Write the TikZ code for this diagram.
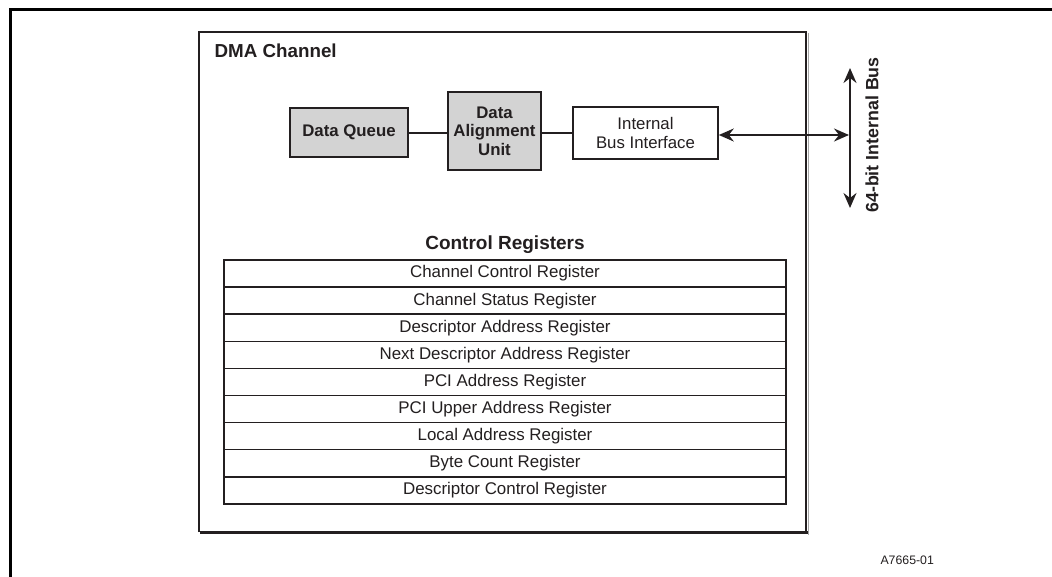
\documentclass[tikz,border=0pt]{standalone}
\usepackage{fontspec}
\setmainfont{Liberation Sans}
\usetikzlibrary{arrows.meta}
\definecolor{ink}{HTML}{231F20}
\definecolor{boxgray}{HTML}{D3D3D3}
\begin{document}
\begin{tikzpicture}[x=1pt,y=-1pt,
  blockbox/.style={draw=ink,line width=1.6pt,align=center,text=ink,inner sep=0pt,font=\fontsize{16.8}{19}\selectfont},
  regrow/.style={draw=ink,line width=1.5pt,minimum width=562pt,minimum height=27.1pt,inner sep=0pt,text=ink,font=\fontsize{16.9}{19}\selectfont},
  wire/.style={draw=ink,line width=1.7pt},
  biarrow/.style={draw=ink,line width=2pt,{Stealth[length=15pt,width=13pt,inset=5pt]}-{Stealth[length=15pt,width=13pt,inset=5pt]}}
]
\useasboundingbox (0,0) rectangle (1052,577);
\fill[white] (0,0) rectangle (1052,577);
% outer frame (partially visible)
\draw[black,line width=2.4pt] (10.5,580) -- (10.5,9.5) -- (1060,9.5);
% DMA channel box with shadow
\draw[gray!70,line width=1pt] (808,33) -- (808,535);
\draw[ink,line width=3.5pt] (200,532.5) -- (808,532.5);
\draw[ink,line width=2pt] (199,532) -- (199,32) -- (806,32) -- (806,532);
\node[anchor=west,text=ink,font=\fontsize{18.8}{22}\selectfont\bfseries] (title) at (211,51) {DMA Channel};
% blocks
\node[blockbox,fill=boxgray,minimum width=118pt,minimum height=49pt,font=\fontsize{16.8}{19}\selectfont\bfseries] (dq) at (349,132.5) {Data Queue};
\node[blockbox,fill=boxgray,minimum width=93pt,minimum height=78pt,font=\fontsize{16.8}{18.5}\selectfont\bfseries] (dau) at (494.5,131) {Data\\Alignment\\Unit};
\node[blockbox,fill=white,minimum width=145pt,minimum height=52pt] (ibi) at (645.5,133) {Internal\\Bus Interface};
\draw[wire] (dq.east |- 0,133) -- (dau.west |- 0,133);
\draw[wire] (dau.east |- 0,133) -- (ibi.west |- 0,133);
% bus
\coordinate (bustop) at (850,68);
\coordinate (busbot) at (850,208);
\coordinate (busmid) at (849,135);
\draw[biarrow] (bustop) -- (busbot);
\draw[biarrow] (ibi.east |- busmid) -- (busmid);
\node[rotate=90,text=ink,font=\fontsize{17.8}{20}\selectfont\bfseries] (buslabel) at (872,135) {64-bit Internal Bus};
% control registers
\node[text=ink,font=\fontsize{19}{22}\selectfont\bfseries] (crtitle) at (505,245) {Control Registers};
\foreach \i/\t in {0/Channel Control Register,1/Channel Status Register,2/Descriptor Address Register,3/Next Descriptor Address Register,4/PCI Address Register,5/PCI Upper Address Register,6/Local Address Register,7/Byte Count Register,8/Descriptor Control Register}{
  \node[regrow] (reg\i) at (505,{273.55+27.1*\i}) {\t};
}
\node[anchor=west,text=ink,font=\fontsize{12.3}{14}\selectfont] (fig) at (877,560) {A7665-01};
\end{tikzpicture}
\end{document}
